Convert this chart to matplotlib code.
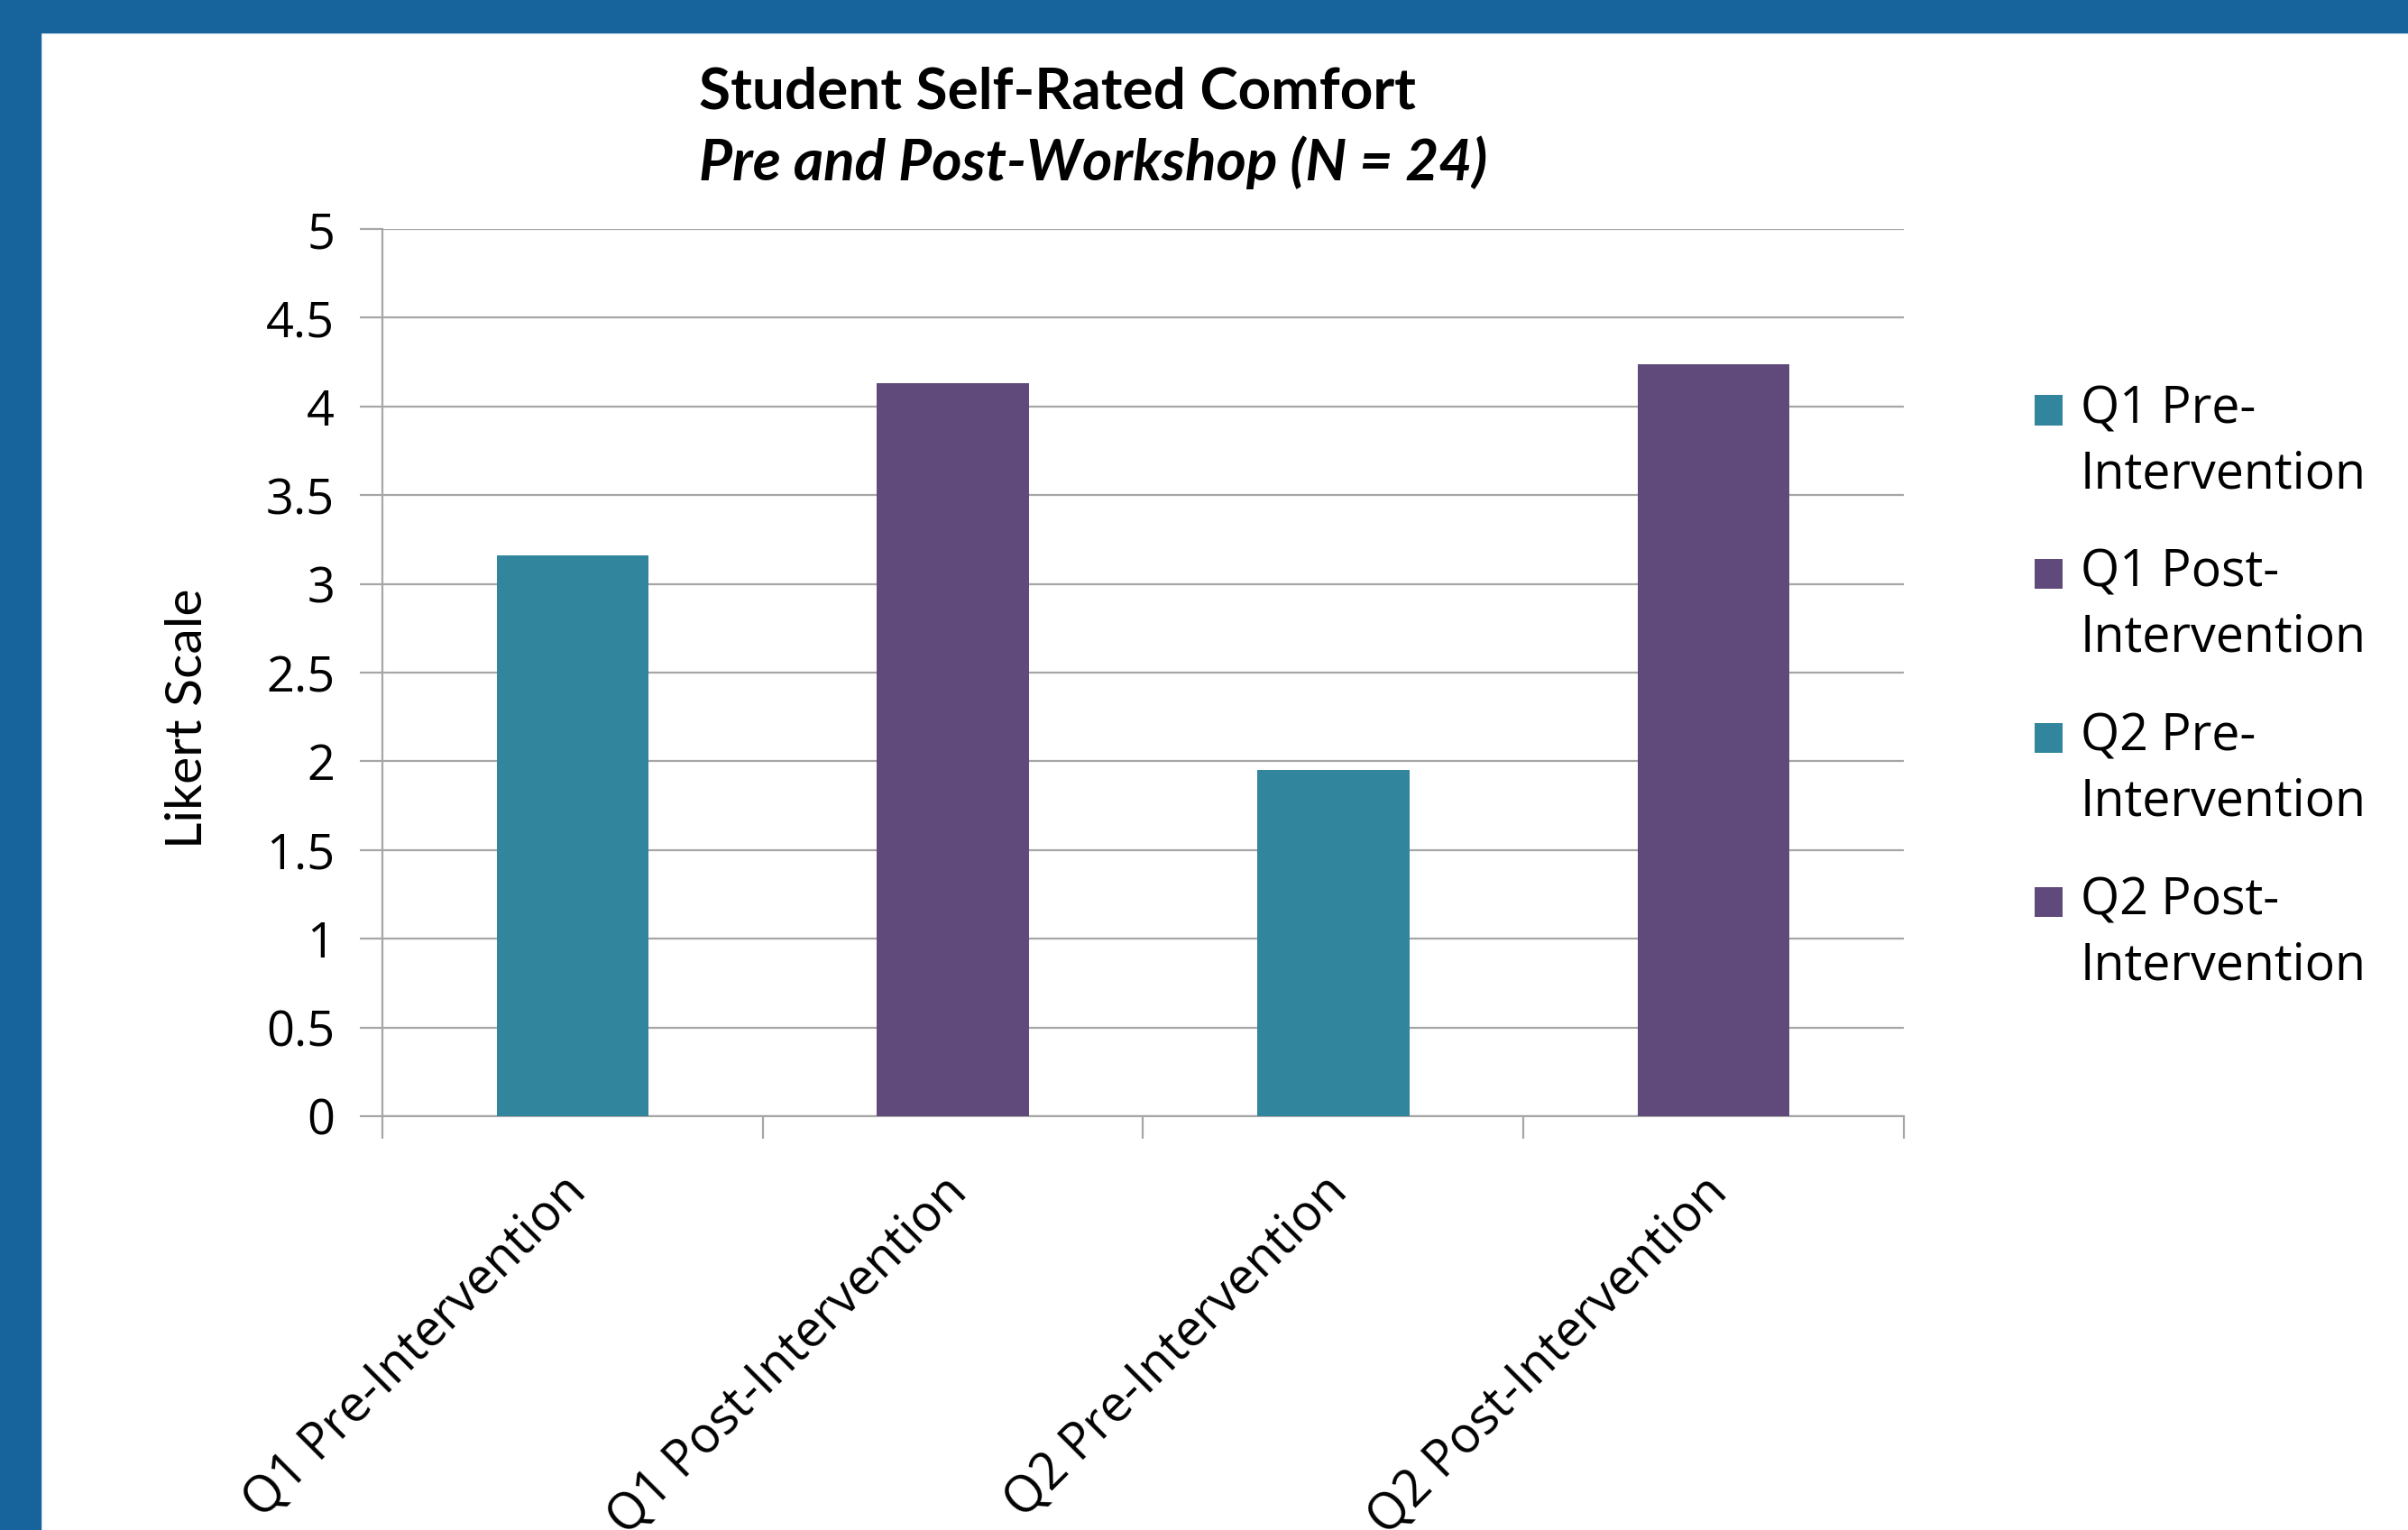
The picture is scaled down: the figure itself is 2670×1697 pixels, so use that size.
import matplotlib.pyplot as plt
import matplotlib.transforms as mtransforms
from matplotlib.patches import Rectangle
from matplotlib.container import BarContainer
from matplotlib.legend_handler import HandlerPatch, update_from_first_child

# bar data
categories = ["Q1 Pre-Intervention", "Q1 Post-Intervention",
              "Q2 Pre-Intervention", "Q2 Post-Intervention"]
legend_labels = ["Q1 Pre-\nIntervention", "Q1 Post-\nIntervention",
                 "Q2 Pre-\nIntervention", "Q2 Post-\nIntervention"]
scores = [3.16, 4.13, 1.95, 4.24]
bar_colors = ["#31859C", "#604A7B", "#31859C", "#604A7B"]
y_ticks = [0, 0.5, 1, 1.5, 2, 2.5, 3, 3.5, 4, 4.5, 5]
y_tick_labels = ["0", "0.5", "1", "1.5", "2", "2.5", "3", "3.5", "4", "4.5", "5"]

LEG_SIZE = 40
LINE_SP = 1.35

fig = plt.figure(figsize=(26.7, 16.97), dpi=100)

# slide frame (blue strip top and left)
fig.patches.append(Rectangle((0, 1 - 36 / 1697), 1, 36 / 1697,
                             transform=fig.transFigure, color="#16649B", zorder=0))
fig.patches.append(Rectangle((0, 0), 45 / 2670, 1,
                             transform=fig.transFigure, color="#16649B", zorder=0))

ax = fig.add_axes([0.1588, 0.2705, 0.6318, 0.5798])

x = list(range(len(categories)))
for xi, val, col, lab in zip(x, scores, bar_colors, legend_labels):
    ax.bar(xi, val, width=0.4, color=col, label=lab, zorder=3)

ax.set_xlim(-0.5, 3.5)
ax.set_ylim(0, 5)
ax.set_yticks(y_ticks)
ax.set_yticklabels(y_tick_labels, fontsize=39, family="Open Sans")
ax.grid(axis="y", color="#A6A6A6", linewidth=1.6, zorder=0)

ax.set_xticks(x)
ax.set_xticklabels(categories, rotation=45, ha="right", rotation_mode="anchor",
                   fontsize=40, family="Open Sans")
ax.set_xticks([-0.5, 0.5, 1.5, 2.5, 3.5], minor=True)
ax.tick_params(axis="x", which="major", length=0, pad=40)
ax.tick_params(axis="x", which="minor", length=18, width=1.6, color="#A6A6A6")
ax.tick_params(axis="y", length=18, width=1.6, color="#A6A6A6", pad=20)

# nudge the slanted labels a little to the left
shift = mtransforms.ScaledTranslation(-13 / 100, 0, fig.dpi_scale_trans)
for lbl in ax.get_xticklabels():
    lbl.set_transform(lbl.get_transform() + shift)

for side in ["top", "right"]:
    ax.spines[side].set_visible(False)
for side in ["left", "bottom"]:
    ax.spines[side].set_color("#A6A6A6")
    ax.spines[side].set_linewidth(1.6)

fig.text(208 / 2670, 1 - 797 / 1697, "Likert Scale", rotation=90,
         fontsize=41, family="Lato", ha="center", va="center")

fig.text(775 / 2670, 1 - 102 / 1697, "Student Self-Rated Comfort",
         fontsize=46, family="Lato", weight="bold", ha="left", va="center")
fig.text(775 / 2670, 1 - 180 / 1697, "Pre and Post-Workshop (N = 24)",
         fontsize=46, family="Lato", weight="bold", style="italic",
         ha="left", va="center")


# legend squares sit next to the first line of each label, as in Excel
def top_square(legend, orig_handle, xdescent, ydescent, width, height, fontsize):
    up = fontsize * LINE_SP * 0.5
    return Rectangle((-xdescent, -ydescent + up), width, height)


leg = fig.legend(loc="upper left", bbox_to_anchor=(2206 / 2670, 1 - 376 / 1697),
                 frameon=False, prop={"family": "Open Sans", "size": LEG_SIZE},
                 handlelength=0.55, handleheight=0.55, handletextpad=0.37,
                 labelspacing=0.95,
                 handler_map={BarContainer: HandlerPatch(
                     patch_func=top_square, update_func=update_from_first_child)})
for t in leg.get_texts():
    t.set_linespacing(LINE_SP)

fig.savefig("out.png", dpi=100)
